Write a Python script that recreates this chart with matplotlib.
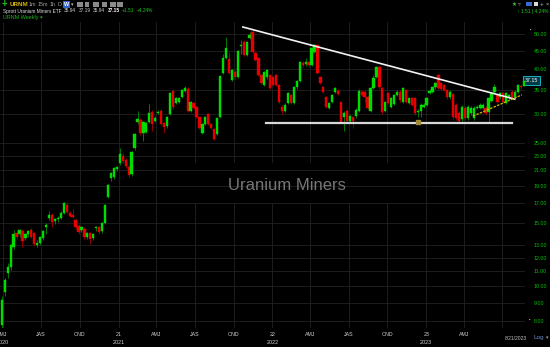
import matplotlib
matplotlib.use('Agg')
import matplotlib.pyplot as plt
import matplotlib.dates as mdates
import matplotlib.transforms as mtrans
from matplotlib.patches import Rectangle
from matplotlib.ticker import NullLocator
import numpy as np
import pandas as pd

plt.rcParams['font.family'] = ['Liberation Sans', 'DejaVu Sans']

# weekly URNM candles, 2020-03-30 .. 2023-08-21
first_week = '2020-03-30'
opens = [7.8, 9.6, 10.9, 11.3, 12.8, 14.0, 13.9, 14.2, 13.6, 13.9,
         14.3, 14.0, 13.0, 13.15, 13.6, 14.6, 15.4, 15.75, 15.15, 15.3,
         15.4, 15.95, 16.8, 15.95, 15.75, 15.2, 14.7, 14.3, 14.4, 13.7,
         14.0, 13.6, 14.45, 14.6, 14.2, 15.0, 17.7, 19.9, 20.1, 21.1,
         21.9, 23.0, 22.4, 21.4, 20.4, 24.1, 28.5, 28.9, 26.6, 26.8,
         28.6, 30.4, 28.7, 30.2, 30.6, 28.4, 27.8, 30.0, 34.75, 32.2,
         32.4, 33.4, 34.75, 35.3, 30.6, 32.2, 31.4, 29.4, 26.6, 28.2,
         30.0, 28.2, 27.2, 26.4, 29.4, 39.0, 42.9, 42.6, 37.3, 39.3,
         38.0, 46.2, 47.5, 43.7, 48.9, 50.6, 44.3, 42.9, 38.5, 36.1,
         38.0, 38.5, 38.0, 38.5, 36.1, 31.4, 30.6, 32.2, 33.8, 32.2,
         35.6, 37.1, 41.6, 41.2, 41.8, 41.0, 44.6, 46.6, 38.0, 35.6,
         33.4, 31.2, 32.4, 34.6, 34.8, 32.4, 29.4, 30.6, 28.7, 29.4,
         29.6, 30.6, 34.6, 34.6, 33.4, 30.6, 35.4, 38.0, 40.5, 35.4,
         30.6, 34.3, 31.4, 32.0, 33.9, 34.6, 32.4, 35.0, 32.2, 33.2,
         33.2, 30.4, 30.6, 31.4, 31.8, 34.3, 34.6, 35.6, 38.5, 36.6,
         36.1, 35.0, 33.4, 34.1, 31.8, 30.2, 29.0, 31.2, 29.2, 30.2,
         29.2, 31.2, 31.2, 31.2, 31.2, 30.4, 32.6, 34.6, 33.8, 33.4,
         34.3, 32.2, 33.2, 34.6, 33.4, 34.6, 35.9, 35.94]
highs = [9.4, 10.5, 11.6, 13.1, 14.3, 14.3, 14.4, 14.4, 14.0, 14.3,
         14.5, 14.1, 13.4, 13.8, 14.3, 15.0, 16.1, 15.9, 15.4, 15.6,
         16.1, 17.1, 17.1, 16.1, 16.4, 15.3, 14.9, 14.7, 14.6, 14.1,
         14.1, 14.0, 14.7, 14.7, 15.1, 16.9, 19.2, 20.7, 21.4, 21.5,
         24.1, 23.4, 22.6, 21.6, 23.7, 26.6, 30.6, 29.3, 28.7, 28.5,
         32.0, 30.7, 29.6, 30.7, 30.9, 28.6, 29.6, 34.5, 35.2, 33.5,
         33.4, 35.2, 35.8, 35.6, 32.6, 32.5, 31.6, 29.6, 28.4, 29.6,
         30.2, 28.4, 27.4, 29.4, 38.6, 44.0, 49.0, 44.5, 40.0, 39.8,
         45.2, 48.0, 48.0, 47.8, 50.5, 51.5, 44.8, 43.2, 38.8, 39.6,
         40.0, 38.8, 38.3, 38.8, 36.4, 31.7, 32.1, 34.6, 34.1, 35.9,
         37.4, 42.2, 42.0, 43.0, 42.2, 46.1, 47.0, 47.0, 38.3, 35.9,
         33.7, 32.5, 34.1, 35.7, 35.1, 32.7, 30.5, 30.9, 29.9, 29.7,
         31.1, 35.1, 34.9, 34.9, 33.7, 35.7, 38.5, 40.8, 40.8, 35.7,
         32.7, 34.6, 33.5, 34.1, 35.0, 34.9, 35.7, 35.3, 33.5, 33.5,
         33.5, 30.9, 32.1, 32.1, 33.5, 35.1, 35.9, 36.9, 38.8, 36.9,
         36.4, 35.3, 34.9, 34.4, 32.1, 30.5, 31.7, 31.5, 31.7, 31.5,
         31.5, 31.7, 32.1, 32.1, 31.5, 33.5, 34.6, 36.3, 34.1, 34.6,
         34.6, 34.6, 34.1, 34.9, 34.9, 36.4, 36.1, 37.19]
lows = [7.6, 9.4, 10.5, 11.1, 12.7, 13.5, 13.7, 12.8, 13.4, 13.7,
        13.6, 12.9, 12.8, 13.0, 13.4, 13.9, 15.2, 14.6, 14.9, 15.1,
        15.3, 15.8, 15.9, 15.5, 15.4, 14.4, 13.9, 14.1, 13.5, 13.5,
        13.1, 13.4, 14.2, 13.9, 14.0, 14.9, 17.5, 19.5, 19.8, 20.9,
        21.7, 22.0, 21.3, 20.1, 20.2, 23.9, 28.2, 26.3, 25.3, 26.5,
        28.4, 27.0, 28.5, 30.0, 28.0, 26.6, 27.5, 29.8, 31.0, 32.0,
        32.2, 33.2, 34.6, 30.4, 30.4, 31.0, 29.2, 27.2, 26.4, 28.0,
        28.0, 27.2, 25.4, 26.2, 29.2, 38.7, 42.5, 38.8, 37.0, 37.5,
        37.8, 44.0, 43.4, 43.4, 48.5, 44.3, 42.0, 38.2, 36.3, 35.8,
        37.6, 35.1, 35.8, 35.8, 32.1, 30.0, 30.3, 31.9, 31.9, 31.9,
        35.3, 36.8, 40.6, 40.9, 40.6, 40.7, 44.3, 38.7, 36.3, 34.3,
        31.1, 30.9, 32.1, 34.3, 33.8, 28.2, 27.0, 28.4, 28.4, 27.5,
        29.3, 30.3, 33.6, 32.5, 30.9, 30.3, 35.1, 37.7, 35.3, 30.1,
        30.3, 31.9, 31.1, 31.7, 33.6, 32.5, 32.1, 32.1, 31.9, 31.5,
        29.9, 29.5, 29.5, 31.1, 31.5, 34.0, 34.3, 35.3, 35.1, 34.9,
        34.7, 33.1, 33.1, 29.1, 28.9, 28.4, 28.7, 28.9, 28.9, 29.9,
        28.9, 30.9, 30.9, 30.9, 29.9, 28.5, 32.3, 34.3, 32.1, 33.1,
        32.1, 31.9, 32.9, 33.1, 33.1, 34.3, 35.3, 35.94]
closes = [9.17, 10.4, 11.3, 13.0, 13.9, 13.7, 14.3, 13.3, 13.9, 14.2,
          13.7, 13.1, 13.2, 13.7, 14.2, 14.8, 15.7, 15.05, 15.3, 15.45,
          15.95, 17.0, 16.05, 15.6, 15.55, 14.6, 14.1, 14.6, 13.7, 14.0,
          13.5, 13.95, 14.6, 14.1, 15.0, 16.8, 19.1, 20.6, 21.25, 21.4,
          23.2, 22.2, 21.5, 20.3, 23.5, 26.4, 29.1, 26.6, 28.5, 28.3,
          30.2, 28.2, 29.3, 30.4, 28.2, 27.6, 29.4, 34.3, 31.4, 33.2,
          33.2, 35.0, 35.5, 30.6, 32.4, 31.2, 29.4, 27.4, 28.2, 29.4,
          28.2, 27.4, 25.6, 29.2, 38.3, 42.9, 45.7, 39.0, 39.7, 37.9,
          44.9, 46.6, 43.7, 47.5, 49.7, 44.6, 42.3, 38.5, 36.6, 39.3,
          39.7, 35.4, 36.1, 36.1, 32.4, 30.6, 31.8, 34.3, 32.2, 35.6,
          37.1, 41.8, 41.0, 41.8, 41.0, 45.7, 46.6, 39.0, 36.6, 34.6,
          31.4, 32.2, 33.8, 35.4, 34.1, 28.5, 30.2, 28.7, 29.6, 28.7,
          30.8, 34.8, 33.9, 33.4, 31.2, 35.4, 37.8, 40.5, 35.6, 30.4,
          32.4, 32.2, 33.2, 33.8, 34.6, 32.8, 35.4, 32.4, 33.2, 31.8,
          30.2, 30.6, 31.8, 31.8, 33.2, 34.8, 35.6, 36.6, 35.4, 35.2,
          35.0, 33.4, 34.6, 29.4, 29.2, 28.7, 31.4, 29.2, 31.4, 31.2,
          31.2, 31.4, 31.8, 31.8, 30.2, 33.2, 34.3, 35.6, 32.4, 34.3,
          32.4, 34.3, 33.8, 33.4, 34.6, 36.1, 35.64, 37.15]

price_ticks = [8, 9, 10, 11, 12, 13, 15, 17, 19, 21, 23, 25, 30, 35, 40, 45, 50]
quarter_starts = pd.date_range('2020-04-01', '2023-07-01', freq='QS')
quarter_labels = ['AMJ', 'JAS', 'OND', '21', 'AMJ', 'JAS', 'OND', '22',
                  'AMJ', 'JAS', 'OND', '23', 'AMJ', '']
year_labels = ['2020', '', '', '2021', '', '', '', '2022', '', '', '', '2023', '', '']

# drawn trendlines (date, price)
upper_line = (['2021-10-23', '2023-07-30'], [52.3, 33.0])
lower_line = (['2021-12-17', '2023-07-23'], [28.4, 28.4])
rising_line = (['2023-04-22', '2023-08-16'], [29.6, 33.9])
pivot = ('2022-12-12', 28.5)

header_quote = [('Sprott Uranium Miners ETF', '#e0e0e0', 'normal'),
                ('35.94', '#d0d0d0', 'normal'), ('37.19', '#d0d0d0', 'normal'),
                ('35.94', '#d0d0d0', 'normal'), ('37.15', 'white', 'bold'),
                ('+1.51', '#20c820', 'normal'), ('+4.24%', '#20c820', 'normal')]

W, H = 550, 347


def fx(px):
    return px / W


def fy(py):
    return 1 - py / H


def text_row(fig, pieces, x_px, y_px, size, gap_px):
    # lay out text pieces one after the other, measured on the canvas
    r = fig.canvas.get_renderer()
    for s, col, wt in pieces:
        t = fig.text(fx(x_px), fy(y_px), s, fontsize=size, color=col,
                     fontweight=wt, va='center')
        x_px += t.get_window_extent(r).width + gap_px


fig = plt.figure(figsize=(5.5, 3.47), dpi=100, facecolor='black')
ax = fig.add_axes([0, fy(328), fx(525), (328 - 22) / H])
ax.set_facecolor('black')
for s in ax.spines.values():
    s.set_visible(False)

weeks = pd.date_range(first_week, periods=len(closes), freq='7D')
x = mdates.date2num(weeks)
o, h, l, c = map(np.array, (opens, highs, lows, closes))
up = c >= o
body_col = np.where(up, '#00dc00', '#e80000')
wick_col = np.where(up, '#007a00', '#8c0000')

ax.set_yscale('log')
ax.vlines(x, l, h, colors=wick_col, lw=0.7, zorder=3)
ax.bar(x, np.maximum(np.abs(c - o), 0.05), bottom=np.minimum(o, c), width=5.4,
       color=body_col, edgecolor=body_col, lw=0.3, zorder=4)

ax.set_ylim(7.65, 54)
x0 = x[0]
ax.set_xlim(x0 - 4.3, x0 - 4.3 + 525 / 0.4214)

ax.set_yticks(price_ticks)
ax.set_yticklabels(['%.2f' % t for t in price_ticks])
ax.yaxis.set_minor_locator(NullLocator())
ax.yaxis.tick_right()
ax.tick_params(axis='y', length=0, pad=6.5, labelsize=3.8, labelcolor='#00c400')
ax.set_xticks([])
ax.grid(axis='y', color='#222222', lw=0.6, zorder=0)
for q in quarter_starts:
    ax.axvline(mdates.date2num(q), color='#222222', lw=0.6, zorder=0)

# black plate behind the watermark
ax.add_patch(Rectangle((170 / 525, (328 - 203) / 306), 235 / 525, 40 / 306,
                       transform=ax.transAxes, facecolor='black', edgecolor='none', zorder=1))
fig.text(fx(287), fy(185), 'Uranium Miners', ha='center', va='center',
         fontsize=12, color='#777777', zorder=2)

# trendlines
ax.plot(pd.to_datetime(upper_line[0]), upper_line[1], color='#f2f2f2', lw=1.2, zorder=5)
ax.plot(pd.to_datetime(lower_line[0]), lower_line[1], color='#d8d8d8', lw=1.6, zorder=5)
ax.plot(pd.to_datetime(rising_line[0]), rising_line[1], color='#c8c000', lw=0.9,
        ls=(0, (2, 1)), zorder=5)
ax.plot(pd.to_datetime([pivot[0]]), [pivot[1]], marker='s', ms=2.5, color='#a08a3a', zorder=6)

# x axis labels
bt = mtrans.blended_transform_factory(ax.transData, fig.transFigure)
for q, ql, yl in zip(quarter_starts, quarter_labels, year_labels):
    xq = mdates.date2num(q)
    if ql:
        ax.text(xq, fy(335), ql, transform=bt, ha='center', va='center',
                fontsize=3.8, color='#d0d0d0', clip_on=False)
    if yl:
        ax.text(xq, fy(343), yl, transform=bt, ha='center', va='center',
                fontsize=3.9, color='#d0d0d0', clip_on=False)
fig.text(fx(516), fy(338), '8/21/2023', ha='center', va='center', fontsize=3.6, color='#c0c0c0')
fig.text(fx(533), fy(338), 'Log', ha='left', va='center', fontsize=4.6, color='#6a8cc8')
fig.text(fx(546), fy(338), '▾', ha='left', va='center', fontsize=3.5, color='#a0a0a0',
         family='DejaVu Sans')

# last price marker
ax.text(1.0, closes[-1], '%.2f' % closes[-1],
        transform=mtrans.blended_transform_factory(ax.transAxes, ax.transData),
        ha='left', va='center', fontsize=3.8, color='white', clip_on=False,
        bbox=dict(boxstyle='square,pad=0.3', fc='#003a44', ec='#19c8d8', lw=0.6))
fig.text(fx(531), fy(31), '•', fontsize=3, color='white', ha='center', va='center')
fig.text(fx(530), fy(321), '•', fontsize=3, color='white', ha='center', va='center')

# header
fig.text(fx(2), fy(4.5), '+', fontsize=7, fontweight='bold', color='#20c020', va='center')
fig.text(fx(10), fy(4.5), 'URNM', fontsize=4.6, fontweight='bold', color='#d8b800', va='center')
for lab, px in [('1m', 29), ('15m', 38), ('1h', 50), ('D', 57)]:
    fig.text(fx(px), fy(4.5), lab, fontsize=3.9, color='#a0a0a0', va='center')
fig.patches.append(Rectangle((fx(63), fy(8)), 7 / W, 7 / H, transform=fig.transFigure,
                             facecolor='#2f62c8', edgecolor='none'))
fig.text(fx(66.5), fy(4.5), 'W', fontsize=3.9, fontweight='bold', color='white',
         va='center', ha='center')
fig.text(fx(71), fy(4.5), '▾', fontsize=3.5, color='#c0c0c0', va='center', family='DejaVu Sans')
for px, w in [(77, 6), (85, 4), (93, 6), (102, 5), (110, 6), (117, 6)]:
    fig.patches.append(Rectangle((fx(px), fy(7)), w / W, 5 / H, transform=fig.transFigure,
                                 facecolor='#8a8a8a', edgecolor='none'))

text_row(fig, header_quote, 3, 11, 3.4, 2.5)
fig.text(fx(3), fy(18), 'URNM Weekly ▾', fontsize=3.9, color='#20b420', va='center',
         family=['Liberation Sans', 'DejaVu Sans'])

# top right
fig.text(fx(514), fy(4), '★', fontsize=4, color='#40c040', ha='center', va='center',
         family='DejaVu Sans')
fig.text(fx(519), fy(4), '▿', fontsize=4, color='#909090', ha='center', va='center',
         family='DejaVu Sans')
fig.patches.append(Rectangle((fx(526), fy(6)), 6 / W, 4 / H, transform=fig.transFigure,
                             facecolor='#3a6ad0', edgecolor='none'))
fig.patches.append(Rectangle((fx(534), fy(6)), 4 / W, 4 / H, transform=fig.transFigure,
                             facecolor='#d8d8d8', edgecolor='none'))
fig.text(fx(542), fy(4), '+', fontsize=4.5, color='#c0c0c0', ha='center', va='center')
fig.text(fx(547.5), fy(4), '×', fontsize=4, color='#c0c0c0', ha='center', va='center')
fig.text(fx(548), fy(12), '↑ 1.51 | 4.24%', fontsize=3.5, color='#20c820', va='center',
         ha='right', family=['Liberation Sans', 'DejaVu Sans'])

fig.savefig('out.png', dpi=100, facecolor='black')
